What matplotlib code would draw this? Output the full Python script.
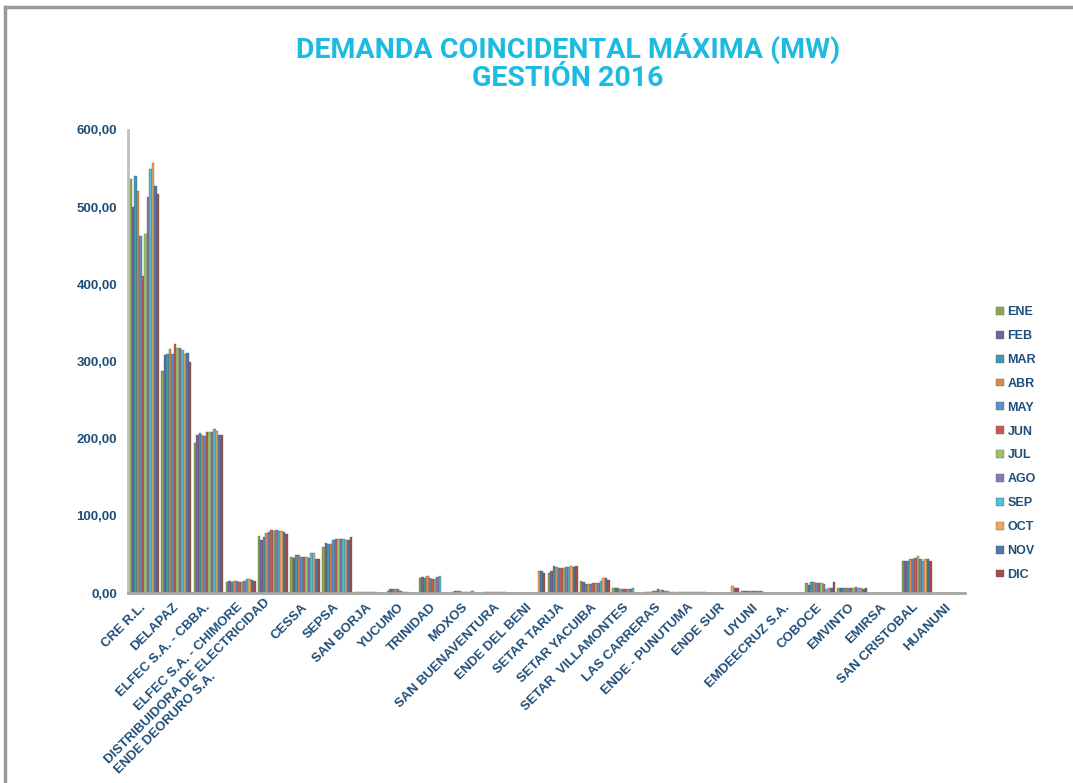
import matplotlib.pyplot as plt
import matplotlib.lines as mlines
import numpy as np

# Empresas (categorias del eje X)
categories = [
    'CRE R.L.', 'DELAPAZ', 'ELFEC S.A. - CBBA.', 'ELFEC S.A. - CHIMORE',
    'DISTRIBUIDORA DE ELECTRICIDAD\nENDE DEORURO S.A.', 'CESSA', 'SEPSA', 'SAN BORJA',
    'YUCUMO', 'TRINIDAD', 'MOXOS', 'SAN BUENAVENTURA', 'ENDE DEL BENI',
    'SETAR TARIJA', 'SETAR YACUIBA', 'SETAR  VILLAMONTES', 'LAS CARRERAS',
    'ENDE - PUNUTUMA', 'ENDE SUR', 'UYUNI', 'EMDEECRUZ S.A.', 'COBOCE',
    'EMVINTO', 'EMIRSA', 'SAN CRISTOBAL', 'HUANUNI',
]

months = ['ENE', 'FEB', 'MAR', 'ABR', 'MAY', 'JUN', 'JUL', 'AGO', 'SEP', 'OCT', 'NOV', 'DIC']

# Demanda maxima por mes (MW), un valor por empresa
ene = [537, 288, 195, 14, 74, 47, 60, 1.2, 3, 20, 1.8, 1.5, 0, 26, 15, 7, 1, 0.8, 0, 2.5, 0.5, 13, 7, 0.5, 42, 0.5]
feb = [500, 308, 205, 15, 69, 46, 65, 1.3, 5, 21, 2, 1.5, 0, 28, 14, 6.5, 1, 0.8, 0, 2.5, 0.5, 10, 6, 0.5, 42, 0.5]
mar = [541, 310, 207, 14, 72, 49, 64, 1.5, 5, 20, 2, 1.6, 0, 35, 12, 6.5, 1.5, 0.8, 0, 2.5, 0.5, 14, 7, 0.5, 42, 0.5]
abr = [521, 316, 205, 15, 78, 49, 64, 1.5, 5, 22, 2, 1.8, 0, 34, 11.5, 5.5, 2, 0.8, 0, 2.8, 0.5, 14, 6, 0.5, 44, 0.5]
may = [463, 310, 204, 15, 79, 47, 69, 1.4, 5, 20, 1.8, 1.7, 0, 33, 12, 5.5, 3, 0.8, 0, 3, 0.5, 13, 6, 0.5, 44, 0.5]
jun = [411, 323, 208, 14, 82, 47, 70, 1.3, 2, 18, 1.5, 1.6, 0, 33, 12.5, 5, 5.5, 0.8, 0, 3, 0.5, 13, 7, 0.5, 46, 0.5]
jul = [465, 318, 208, 14, 80, 47, 70, 1.4, 1.5, 18, 1.5, 1.5, 0, 33, 12.5, 5, 4, 0.8, 0, 3, 0.5, 13, 6, 0.5, 48, 0.5]
ago = [513, 318, 208, 15, 81, 45, 70, 1.5, 1.5, 21, 1.8, 1.6, 0, 34, 13, 5.5, 3.5, 0.8, 0, 2.8, 0.5, 12, 8, 0.5, 44, 0.5]
sep = [549, 315, 213, 18, 80, 52, 70, 1.6, 1.5, 22, 2, 1.7, 0, 34, 15.5, 6.5, 3, 0.8, 0, 2.8, 0.5, 5, 6, 0.5, 42, 0.5]
oct_ = [557, 310, 210, 18, 80, 52, 69, 0, 0, 0, 0, 0, 29, 35, 19, 0, 2, 0.8, 9, 0, 0.5, 6, 6, 0.5, 44, 0.5]
nov = [528, 311, 205, 17, 79, 44, 69, 0, 0, 0, 0, 0, 28, 34, 20, 0, 1, 0.8, 7, 0, 0.5, 6, 5, 0.5, 44, 0.5]
dic = [517, 300, 205, 16, 76, 44, 72, 0, 0, 0, 0, 0, 26, 35, 17, 0, 1, 0.8, 7, 0, 0.5, 14, 6, 0.5, 42, 0.5]

series = [ene, feb, mar, abr, may, jun, jul, ago, sep, oct_, nov, dic]
colors = ['#8AAA4C', '#7464A0', '#3E9BB0', '#D98C45', '#5B8FC9', '#C85A55',
          '#9DC26A', '#8A78B5', '#4DBFD6', '#F4A45A', '#4A78A8', '#A84A48']

text_color = '#1F4E79'
font = ['Liberation Sans', 'DejaVu Sans']

fig = plt.figure(figsize=(10.73, 7.83), dpi=100)
ax = fig.add_axes([128 / 1073, 1 - 593 / 783, 837 / 1073, 463 / 783])

x = np.arange(len(categories))
n = len(series)
group_w = 0.93
bar_w = group_w / n
for i, (vals, col) in enumerate(zip(series, colors)):
    offs = -group_w / 2 + bar_w * (i + 0.5)
    ax.bar(x + offs, vals, width=bar_w, color=col, edgecolor='#555555',
           linewidth=0.25, label=months[i], zorder=2)

ax.set_xlim(-0.5, len(categories) - 0.5)
ax.set_ylim(0, 600)
ax.set_yticks(np.arange(0, 601, 100))
ax.set_yticklabels([f'{v:,.2f}'.replace('.', ',') for v in np.arange(0, 601, 100)],
                   fontsize=9.5, fontweight='bold', color=text_color, family=font)
ax.tick_params(axis='y', length=0, pad=8)
ax.tick_params(axis='x', length=0, pad=9)
ax.set_xticks(x)
ax.set_xticklabels(categories, rotation=45, ha='right', va='center', rotation_mode='anchor',
                   fontsize=9.5, fontweight='bold', color=text_color, family=font,
                   linespacing=1.3)
for lbl in ax.get_xticklabels():
    lbl.set_multialignment('left')

for side in ['top', 'right']:
    ax.spines[side].set_visible(False)
ax.spines['left'].set_color('#BFBFBF')
ax.spines['left'].set_linewidth(2)
ax.spines['bottom'].set_color('#A6A6A6')
ax.spines['bottom'].set_linewidth(2)

# Titulo
title_font = ['Liberation Sans Narrow', 'Roboto', 'DejaVu Sans']
fig.text(0.529, 1 - 48 / 783, 'DEMANDA COINCIDENTAL MÁXIMA (MW)', ha='center', va='center',
         fontsize=20.5, fontweight='bold', color='#1DBBE0', family=title_font)
fig.text(0.529, 1 - 79 / 783, 'GESTIÓN 2016', ha='center', va='center',
         fontsize=20.5, fontweight='bold', color='#1DBBE0', family=title_font)

# Leyenda
leg = ax.legend(loc='upper left', bbox_to_anchor=(985 / 1073, 1 - 295 / 783),
                bbox_transform=fig.transFigure, frameon=False,
                handlelength=0.6, handleheight=0.6, handletextpad=0.3,
                labelspacing=0.95, prop={'size': 9, 'weight': 'bold', 'family': font})
for t in leg.get_texts():
    t.set_color(text_color)

# Marco de la figura
fig.add_artist(mlines.Line2D([5 / 1073, 1], [1 - 7 / 783, 1 - 7 / 783],
                             transform=fig.transFigure, color='#9A9A9A', lw=2.5))
fig.add_artist(mlines.Line2D([5 / 1073, 5 / 1073], [0, 1 - 7 / 783],
                             transform=fig.transFigure, color='#9A9A9A', lw=2.5))

fig.savefig('out.png', dpi=100)
